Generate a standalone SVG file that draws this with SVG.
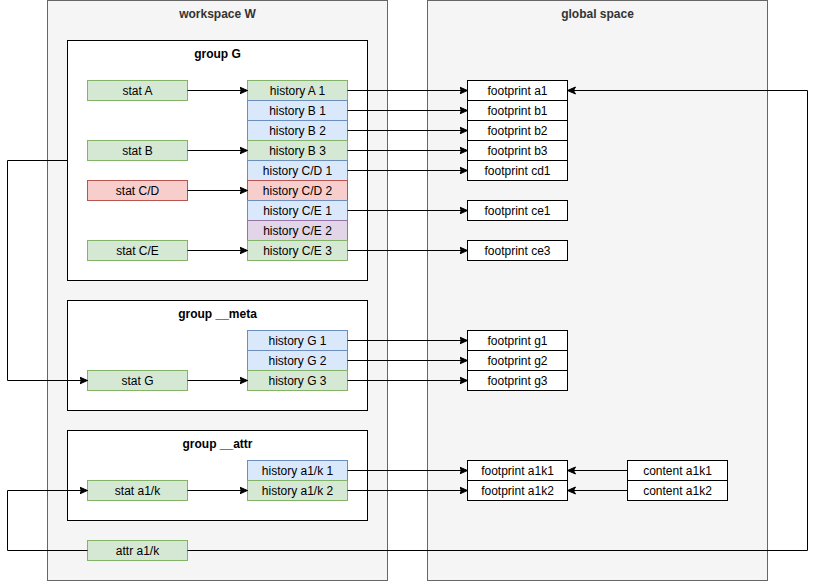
<svg xmlns="http://www.w3.org/2000/svg" width="816" height="581" viewBox="0 0 816 581">
<style>
text{font-family:"Liberation Sans",Arial,sans-serif;font-size:12px;text-anchor:middle;fill:#000}
.t{font-weight:bold}
.ct{fill:#333333;font-weight:bold}
.cont{fill:#f5f5f5;stroke:#666666;stroke-width:1}
.grp{fill:#ffffff;stroke:#000000;stroke-width:1}
.g{fill:#d5e8d4;stroke:#82b366}
.b{fill:#dae8fc;stroke:#6c8ebf}
.r{fill:#f8cecc;stroke:#b85450}
.p{fill:#e1d5e7;stroke:#9673a6}
.w{fill:#ffffff;stroke:#000000}
.e{fill:none;stroke:#000000;stroke-width:1;marker-end:url(#arr)}
</style>
<defs>
<marker id="arr" markerUnits="userSpaceOnUse" markerWidth="10" markerHeight="10" viewBox="-8 -5 10 10" refX="0" refY="0" orient="auto">
<path d="M-8,-3.5 L0,0 L-8,3.5 L-6,0 Z" fill="#000" stroke="#000" stroke-width="1"/>
</marker>
</defs>
<g id="workspace">
<rect class="cont" x="47.5" y="0.5" width="340" height="580"/>
<text class="ct" x="217.5" y="18">workspace W</text>
</g>
<g id="global">
<rect class="cont" x="427.5" y="0.5" width="340" height="580"/>
<text class="ct" x="597.5" y="18">global space</text>
</g>
<g id="groupG">
<rect class="grp" x="67.5" y="40.5" width="300" height="240"/>
<text class="t" x="217.5" y="58">group G</text>
</g>
<g id="groupMeta">
<rect class="grp" x="67.5" y="300.5" width="300" height="110"/>
<text class="t" x="217.5" y="318">group __meta</text>
</g>
<g id="groupAttr">
<rect class="grp" x="67.5" y="430.5" width="300" height="90"/>
<text class="t" x="217.5" y="448">group __attr</text>
</g>
<g id="statA"><rect class="g" x="87.5" y="80.5" width="100" height="20"/><text x="137.5" y="94.5">stat A</text></g>
<g id="statB"><rect class="g" x="87.5" y="140.5" width="100" height="20"/><text x="137.5" y="154.5">stat B</text></g>
<g id="statCD"><rect class="r" x="87.5" y="180.5" width="100" height="20"/><text x="137.5" y="194.5">stat C/D</text></g>
<g id="statCE"><rect class="g" x="87.5" y="240.5" width="100" height="20"/><text x="137.5" y="254.5">stat C/E</text></g>
<g id="histA1"><rect class="g" x="247.5" y="80.5" width="100" height="20"/><text x="297.5" y="94.5">history A 1</text></g>
<g id="histB1"><rect class="b" x="247.5" y="100.5" width="100" height="20"/><text x="297.5" y="114.5">history B 1</text></g>
<g id="histB2"><rect class="b" x="247.5" y="120.5" width="100" height="20"/><text x="297.5" y="134.5">history B 2</text></g>
<g id="histB3"><rect class="g" x="247.5" y="140.5" width="100" height="20"/><text x="297.5" y="154.5">history B 3</text></g>
<g id="histCD1"><rect class="b" x="247.5" y="160.5" width="100" height="20"/><text x="297.5" y="174.5">history C/D 1</text></g>
<g id="histCD2"><rect class="r" x="247.5" y="180.5" width="100" height="20"/><text x="297.5" y="194.5">history C/D 2</text></g>
<g id="histCE1"><rect class="b" x="247.5" y="200.5" width="100" height="20"/><text x="297.5" y="214.5">history C/E 1</text></g>
<g id="histCE2"><rect class="p" x="247.5" y="220.5" width="100" height="20"/><text x="297.5" y="234.5">history C/E 2</text></g>
<g id="histCE3"><rect class="g" x="247.5" y="240.5" width="100" height="20"/><text x="297.5" y="254.5">history C/E 3</text></g>
<g id="statG"><rect class="g" x="87.5" y="370.5" width="100" height="20"/><text x="137.5" y="384.5">stat G</text></g>
<g id="histG1"><rect class="b" x="247.5" y="330.5" width="100" height="20"/><text x="297.5" y="344.5">history G 1</text></g>
<g id="histG2"><rect class="b" x="247.5" y="350.5" width="100" height="20"/><text x="297.5" y="364.5">history G 2</text></g>
<g id="histG3"><rect class="g" x="247.5" y="370.5" width="100" height="20"/><text x="297.5" y="384.5">history G 3</text></g>
<g id="statA1k"><rect class="g" x="87.5" y="480.5" width="100" height="20"/><text x="137.5" y="494.5">stat a1/k</text></g>
<g id="histA1k1"><rect class="b" x="247.5" y="460.5" width="100" height="20"/><text x="297.5" y="474.5">history a1/k 1</text></g>
<g id="histA1k2"><rect class="g" x="247.5" y="480.5" width="100" height="20"/><text x="297.5" y="494.5">history a1/k 2</text></g>
<g id="attrA1k"><rect class="g" x="87.5" y="540.5" width="100" height="20"/><text x="137.5" y="554.5">attr a1/k</text></g>
<g id="fpA1"><rect class="w" x="467.5" y="80.5" width="100" height="20"/><text x="517.5" y="94.5">footprint a1</text></g>
<g id="fpB1"><rect class="w" x="467.5" y="100.5" width="100" height="20"/><text x="517.5" y="114.5">footprint b1</text></g>
<g id="fpB2"><rect class="w" x="467.5" y="120.5" width="100" height="20"/><text x="517.5" y="134.5">footprint b2</text></g>
<g id="fpB3"><rect class="w" x="467.5" y="140.5" width="100" height="20"/><text x="517.5" y="154.5">footprint b3</text></g>
<g id="fpCD1"><rect class="w" x="467.5" y="160.5" width="100" height="20"/><text x="517.5" y="174.5">footprint cd1</text></g>
<g id="fpCE1"><rect class="w" x="467.5" y="200.5" width="100" height="20"/><text x="517.5" y="214.5">footprint ce1</text></g>
<g id="fpCE3"><rect class="w" x="467.5" y="240.5" width="100" height="20"/><text x="517.5" y="254.5">footprint ce3</text></g>
<g id="fpG1"><rect class="w" x="467.5" y="330.5" width="100" height="20"/><text x="517.5" y="344.5">footprint g1</text></g>
<g id="fpG2"><rect class="w" x="467.5" y="350.5" width="100" height="20"/><text x="517.5" y="364.5">footprint g2</text></g>
<g id="fpG3"><rect class="w" x="467.5" y="370.5" width="100" height="20"/><text x="517.5" y="384.5">footprint g3</text></g>
<g id="fpA1k1"><rect class="w" x="467.5" y="460.5" width="100" height="20"/><text x="517.5" y="474.5">footprint a1k1</text></g>
<g id="fpA1k2"><rect class="w" x="467.5" y="480.5" width="100" height="20"/><text x="517.5" y="494.5">footprint a1k2</text></g>
<g id="contA1k1"><rect class="w" x="627.5" y="460.5" width="100" height="20"/><text x="677.5" y="474.5">content a1k1</text></g>
<g id="contA1k2"><rect class="w" x="627.5" y="480.5" width="100" height="20"/><text x="677.5" y="494.5">content a1k2</text></g>
<g id="connectors">
<path class="e" d="M187.5,90.5 H247.5"/>
<path class="e" d="M187.5,150.5 H247.5"/>
<path class="e" d="M187.5,190.5 H247.5"/>
<path class="e" d="M187.5,250.5 H247.5"/>
<path class="e" d="M347.5,90.5 H467.5"/>
<path class="e" d="M347.5,110.5 H467.5"/>
<path class="e" d="M347.5,130.5 H467.5"/>
<path class="e" d="M347.5,150.5 H467.5"/>
<path class="e" d="M347.5,170.5 H467.5"/>
<path class="e" d="M347.5,210.5 H467.5"/>
<path class="e" d="M347.5,250.5 H467.5"/>
<path class="e" d="M67.5,160.5 H7.5 V380.5 H87.5"/>
<path class="e" d="M187.5,380.5 H247.5"/>
<path class="e" d="M347.5,340.5 H467.5"/>
<path class="e" d="M347.5,360.5 H467.5"/>
<path class="e" d="M347.5,380.5 H467.5"/>
<path class="e" d="M187.5,490.5 H247.5"/>
<path class="e" d="M347.5,470.5 H467.5"/>
<path class="e" d="M347.5,490.5 H467.5"/>
<path class="e" d="M627.5,470.5 H567.5"/>
<path class="e" d="M627.5,490.5 H567.5"/>
<path class="e" d="M87.5,550.5 H7.5 V490.5 H87.5"/>
<path class="e" d="M187.5,550.5 H807.5 V90.5 H567.5"/>
</g>
</svg>
